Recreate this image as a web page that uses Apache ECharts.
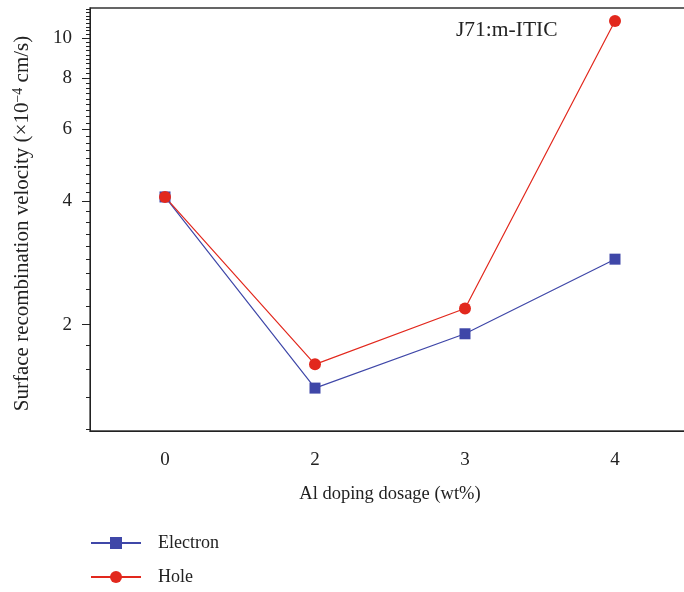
<!DOCTYPE html>
<html>
<head>
<meta charset="utf-8">
<script src="https://cdn.jsdelivr.net/npm/echarts@6/dist/echarts.min.js"></script>
<style>html,body{margin:0;padding:0;background:#fff;overflow:hidden;width:684px;height:592px}#c{width:690px;height:592px}</style>
</head>
<body>
<div id="c"></div>
<script>
const categories = ['0', '2', '3', '4'];
const electron = [4.10, 1.40, 1.90, 2.89];
const hole = [4.10, 1.60, 2.19, 11.03];
const yTicks = [2, 4, 6, 8, 10];
const yMinorTicks = [1.11, 1.33, 1.56, 1.78,
  2.22, 2.44, 2.67, 2.89, 3.11, 3.33, 3.56, 3.78,
  4.22, 4.44, 4.67, 4.89, 5.11, 5.33, 5.56, 5.78,
  6.22, 6.44, 6.67, 6.89, 7.11, 7.33, 7.56, 7.78,
  8.22, 8.44, 8.67, 8.89, 9.11, 9.33, 9.56, 9.78,
  10.22, 10.44, 10.67, 10.89, 11.11, 11.33, 11.56, 11.78];
const yMin = 1.1, yMax = 11.86;

const FONT = '"Liberation Serif", "DejaVu Serif", serif';
const DARK = '#222';
const BLUE = '#3f47a8';
const RED = '#e2281d';

const chart = echarts.init(document.getElementById('c'), null, {renderer: 'canvas'});
chart.setOption({
  animation: false,
  backgroundColor: '#fff',
  textStyle: {fontFamily: FONT, color: DARK},
  grid: {left: 90, right: 0, top: 8, bottom: 161, show: true, borderColor: '#333', borderWidth: 1.3, backgroundColor: 'transparent'},
  graphic: [{type: 'text', left: 456, top: 19, style: {text: 'J71:m-ITIC', font: '21.5px ' + FONT, fill: DARK}}],
  legend: {
    orient: 'vertical', left: 90, top: 534, padding: 0, itemWidth: 50, itemHeight: 15, itemGap: 16,
    textStyle: {fontFamily: FONT, fontSize: 18, color: DARK, padding: [0, 0, 0, 12]},
    data: ['Electron', 'Hole']
  },
  xAxis: [{
    type: 'category', data: categories, boundaryGap: true,
    name: 'Al doping dosage (wt%)', nameLocation: 'middle', nameGap: 54,
    nameTextStyle: {fontFamily: FONT, fontSize: 18.5, color: DARK},
    axisLine: {lineStyle: {color: DARK, width: 1}},
    axisTick: {alignWithLabel: true, length: 8, lineStyle: {color: DARK}},
    axisLabel: {fontFamily: FONT, fontSize: 19, color: DARK, margin: 20},
    splitLine: {show: false}
  }, {
    type: 'category', data: categories, boundaryGap: true, position: 'bottom',
    axisLine: {show: false},
    axisTick: {length: 3, lineStyle: {color: DARK}},
    axisLabel: {show: false},
    splitLine: {show: false}
  }],
  yAxis: [{
    type: 'log', logBase: 10, min: yMin, max: yMax,
    name: 'Surface recombination velocity (×10{sup|−4} cm/s)',
    nameLocation: 'middle', nameGap: 56,
    nameTextStyle: {fontFamily: FONT, fontSize: 21, color: DARK, padding: [0, 8, 0, 0],
      rich: {sup: {fontFamily: FONT, fontSize: 14, color: DARK, verticalAlign: 'top', padding: [0, 0, 9, 0]}}},
    axisLine: {show: true, lineStyle: {color: DARK, width: 1}},
    axisTick: {show: true, length: 8, customValues: yTicks, lineStyle: {color: DARK}},
    axisLabel: {fontFamily: FONT, fontSize: 19, color: DARK, margin: 18, customValues: yTicks},
    splitLine: {show: false}, minorTick: {show: false}
  }, {
    type: 'log', logBase: 10, min: yMin, max: yMax, position: 'left',
    axisLine: {show: false},
    axisTick: {show: true, length: 4, customValues: yMinorTicks, lineStyle: {color: DARK}},
    axisLabel: {show: false, customValues: yMinorTicks},
    splitLine: {show: false}
  }],
  series: [{
    name: 'Electron', type: 'line', data: electron, xAxisIndex: 0, yAxisIndex: 0,
    symbol: 'rect', symbolSize: 11,
    lineStyle: {color: BLUE, width: 1.2}, itemStyle: {color: BLUE}
  }, {
    name: 'Hole', type: 'line', data: hole, xAxisIndex: 0, yAxisIndex: 0,
    symbol: 'circle', symbolSize: 12,
    lineStyle: {color: RED, width: 1.2}, itemStyle: {color: RED}
  }]
});
</script>
</body>
</html>
